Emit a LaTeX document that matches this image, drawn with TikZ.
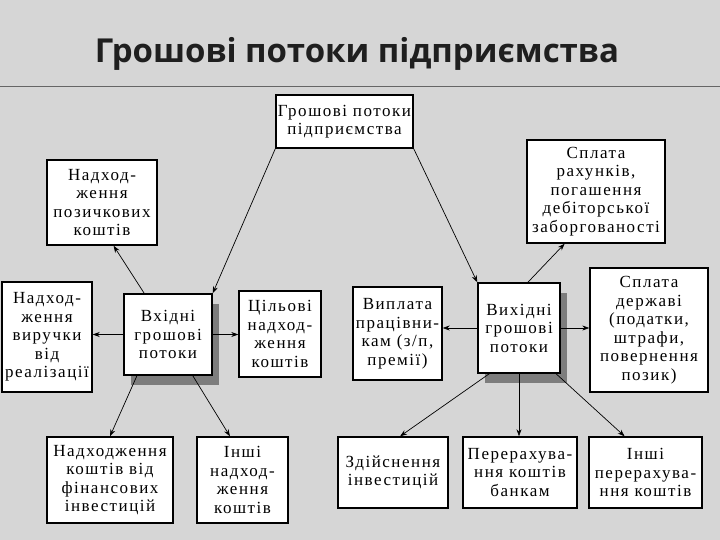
\documentclass[tikz,border=0pt]{standalone}
\usepackage{fontspec}
\setmainfont{Liberation Serif}
\newfontfamily\titlefont{Open Sans}
\newfontfamily\boxfont[LetterSpace=9]{Liberation Serif}
\usepackage{tikz}
\usetikzlibrary{arrows.meta, shadows}
\usepackage{xcolor}
\definecolor{slidebg}{RGB}{214,214,214}
\definecolor{shadowgray}{RGB}{125,125,125}

\begin{document}
\begin{tikzpicture}[
    x=1pt, y=-1pt,
    box/.style={rectangle, draw, line width=1.4pt, fill=white, align=center,
                inner sep=1pt, font=\boxfont\fontsize{17}{18.5}\selectfont},
    flow/.style={box, drop shadow={shadow xshift=7pt, shadow yshift=-10pt,
                 fill=shadowgray, opacity=1}},
    arrow/.style={-{Stealth[length=7pt, width=5pt]}, line width=0.7pt}
]

% Slide background
\useasboundingbox[fill=slidebg] (0,0) rectangle (720,540);
\node[font=\titlefont\bfseries\fontsize{33}{38}\selectfont, text=black!88]
  (title) at (357,54) {Грошові потоки підприємства};
\coordinate (ruleL) at (0,86);
\coordinate (ruleR) at (720,86);
\draw[black!60, line width=0.8pt] (ruleL) -- (ruleR);

% Top
\node[box, minimum width=137pt, minimum height=53pt] (grp) at (344.5,121.5)
  {Грошові потоки\\підприємства};

% Main flows
\node[flow, minimum width=88pt, minimum height=81pt] (in) at (168,334.5)
  {Вхідні\\грошові\\потоки};
\node[flow, minimum width=82pt, minimum height=90pt] (out) at (519,328)
  {Вихідні\\грошові\\потоки};

% Incoming side
\node[box, minimum width=110pt, minimum height=85pt] (loan) at (102,202.5)
  {Надход-\\ження\\позичкових\\коштів};
\node[box, minimum width=90pt, minimum height=110pt] (rev) at (47,337)
  {Надход-\\ження\\виручки\\від\\реалізації};
\node[box, minimum width=82pt, minimum height=86pt] (goal) at (280,334)
  {Цільові\\надход-\\ження\\коштів};
\node[box, minimum width=126pt, minimum height=86pt] (fin) at (110,480)
  {Надходження\\коштів від\\фінансових\\інвестицій};
\node[box, minimum width=91pt, minimum height=86pt] (oth) at (242.5,480)
  {Інші\\надход-\\ження\\коштів};

% Outgoing side
\node[box, minimum width=138pt, minimum height=103pt] (pay) at (596,191.5)
  {Сплата\\рахунків,\\погашення\\дебіторської\\заборгованості};
\node[box, minimum width=89pt, minimum height=93pt] (wage) at (397.5,333.5)
  {Виплата\\працівни-\\кам (з/п,\\премії)};
\node[box, minimum width=118pt, minimum height=124pt] (state) at (649,330)
  {Сплата\\державі\\(податки,\\штрафи,\\повернення\\позик)};
\node[box, minimum width=110pt, minimum height=71pt] (inv) at (393,472.5)
  {Здійснення\\інвестицій};
\node[box, minimum width=114pt, minimum height=71pt] (bank) at (520,472.5)
  {Перерахува-\\ння коштів\\банкам};
\node[box, minimum width=113pt, minimum height=71pt] (oth2) at (645.5,472.5)
  {Інші\\перерахува-\\ння коштів};

% Arrows
\draw[arrow] (grp.south west) -- (in.north east);
\draw[arrow] (grp.south east) -- (out.north west);

\draw[arrow] (in.120) -- (loan.-75);
\draw[arrow] (in.west) -- (in.west -| rev.east);
\draw[arrow] (in.east) -- (in.east -| goal.west);
\draw[arrow] (in.-127) -- (fin.north);
\draw[arrow] (in.-59) -- (oth.106);

\draw[arrow] (out.79) -- (pay.-121);
\draw[arrow] (out.west) -- (out.west -| wage.east);
\draw[arrow] (out.east) -- (out.east -| state.west);
\draw[arrow] (out.-123) -- (inv.79);
\draw[arrow] (out.south) -- (out.south |- bank.north);
\draw[arrow] (out.-51) -- (oth2.120);

\end{tikzpicture}
\end{document}
